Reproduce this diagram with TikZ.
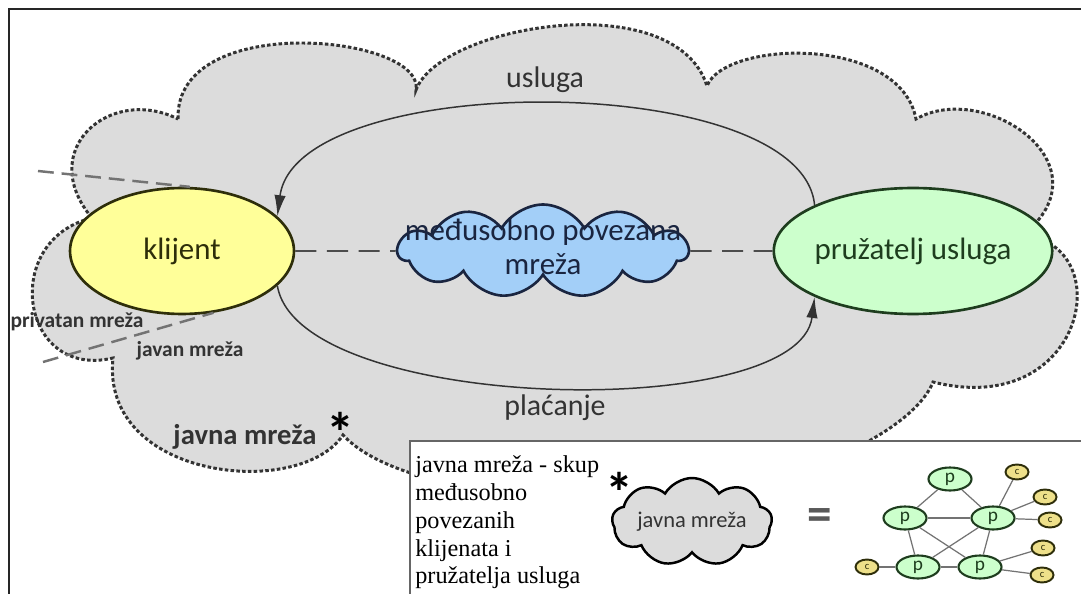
\documentclass[tikz,border=0pt]{standalone}
\usepackage{fontspec}
\setmainfont{Carlito}
\newfontfamily\opisfont{Liberation Serif}
\usetikzlibrary{shapes.geometric,shapes.symbols,arrows.meta}
\definecolor{cloudgray}{HTML}{DCDCDC}
\definecolor{klijentfill}{HTML}{FFFF99}
\definecolor{klijentline}{HTML}{2E2E0A}
\definecolor{provfill}{HTML}{CCFFCC}
\definecolor{provline}{HTML}{1E3D1E}
\definecolor{netfill}{HTML}{A3CFF8}
\definecolor{netline}{HTML}{1A2540}
\definecolor{cfill}{HTML}{EEE08A}
\definecolor{labeltext}{HTML}{333333}
\tikzset{>={Latex[length=12pt,width=6.5pt]}}
\tikzset{
  party/.style = {ellipse, draw, line width=1.5pt, inner sep=0pt,
    minimum height=2.52cm, font=\fontsize{17.6}{20}\selectfont},
  netcloud/.style = {cloud, cloud ignores aspect, draw, inner sep=0pt},
  flow/.style = {->, line width=0.85pt, draw=black!80},
  link/.style = {line width=0.7pt, dash pattern=on 12pt off 6pt},
  boundary/.style = {black!55, line width=1.4pt, dash pattern=on 9pt off 4.5pt},
  tag/.style = {text=labeltext, font=\fontsize{17}{20}\selectfont},
  star/.style = {font=\bfseries\fontsize{32}{32}\selectfont},
  pnode/.style = {ellipse, draw=provline, fill=provfill, line width=1.2pt,
    minimum width=0.86cm, minimum height=0.46cm, inner sep=0pt,
    text=provline, font=\fontsize{11}{11}\selectfont},
  cnode/.style = {ellipse, draw=klijentline, fill=cfill, line width=1.1pt,
    minimum width=0.46cm, minimum height=0.3cm, inner sep=0pt,
    text=klijentline, font=\fontsize{6}{6}\selectfont},
  netedge/.style = {draw=black!55, line width=0.7pt}
}

\begin{document}
\begin{tikzpicture}[x=0.02cm,y=-0.02cm]
  \useasboundingbox (0,0) rectangle (1081,594);
  \fill[white] (0,0) rectangle (1081,594);
  \draw[line width=1.2pt, black!85] (9,610) -- (9,9) -- (1100,9);

  \draw[fill=cloudgray, draw=black!80, line width=1.7pt, dash pattern=on 2pt off 1.3pt]
    (178,119) .. controls (175,10) and (425,35) .. (416,90)
    .. controls (440,25) and (675,-15) .. (707,86)
    .. controls (725,40) and (900,35) .. (916,119)
    .. controls (985,80) and (1110,165) .. (1023,235)
    .. controls (1120,245) and (1085,420) .. (933,382)
    .. controls (910,440) and (760,500) .. (640,500)
    .. controls (480,500) and (380,475) .. (343,435)
    .. controls (300,500) and (100,480) .. (113,358)
    .. controls (20,380) and (0,240) .. (92,218)
    .. controls (35,150) and (110,85) .. cycle;

  \node[party, fill=klijentfill, draw=klijentline, text=klijentline,
    minimum width=4.48cm] (klijent) at (182,251) {klijent};
  \node[party, fill=provfill, draw=provline, text=provline,
    minimum width=4.4cm] (pruzatelj) at (913,251) {pružatelj usluga};
  \node[netcloud, fill=netfill, draw=netline, line width=1.5pt, cloud puffs=11,
    cloud puff arc=120, minimum width=5.8cm, minimum height=1.86cm] (mreza) at (543,251) {};
  \node[align=center, text=netline, font=\fontsize{17.6}{19}\selectfont] (mrezatekst)
    at (543,247) {međusobno povezana\\mreža};

  \coordinate (privA) at (38,171);
  \coordinate (privB) at (43,362);
  \draw[boundary] (privA) -- (klijent.83);
  \draw[boundary] (privB) -- (klijent.-63);

  \draw[flow] (pruzatelj.155) .. controls +(-13,-136) and +(19,-147) .. (klijent.20);
  \draw[flow] (klijent.-20) .. controls +(21,127) and +(-16,127) .. (pruzatelj.205);
  \draw[link] (klijent) -- (mreza);
  \draw[link] (mreza) -- (pruzatelj);

  \node[tag] (usluga) at (545,80) {usluga};
  \node[tag] (placanje) at (555,408) {plaćanje};
  \node[text=labeltext, font=\bfseries\fontsize{16.3}{18}\selectfont] (javna) at (245,437) {javna mreža};
  \node[star] (zvjezdicaA) at (340,432) {*};
  \node[text=labeltext, font=\bfseries\fontsize{12.2}{14}\selectfont] (privatan) at (77,322) {privatan mreža};
  \node[text=labeltext, font=\bfseries\fontsize{12.2}{14}\selectfont] (javan) at (190,351) {javan mreža};

  \draw[fill=white, draw=black!60, line width=0.8pt] (410,441) rectangle (1100,620);
  \node[anchor=north west, align=left, inner sep=0pt,
    font=\opisfont\fontsize{13.8}{15.9}\selectfont] (opis) at (415,455)
    {javna mreža - skup\\međusobno\\povezanih\\klijenata i\\pružatelja usluga};
  \node[star] (zvjezdicaB) at (619,492) {*};
  \node[netcloud, fill=cloudgray, draw=black, line width=1.4pt, cloud puffs=9,
    cloud puff arc=120, minimum width=3.2cm, minimum height=1.76cm] (javnaoblak) at (692,522) {};
  \node[text=labeltext, font=\fontsize{12.8}{14}\selectfont] (javnatekst) at (javnaoblak) {javna mreža};
  \node[text=black!65, font=\bfseries\fontsize{28}{28}\selectfont] (jednako) at (820,520) {=};

  \node[pnode] (ptop) at (950,479) {p};
  \node[pnode] (pml) at (905,518) {p};
  \node[pnode] (pmr) at (993,518) {p};
  \node[pnode] (pbl) at (918,567) {p};
  \node[pnode] (pbr) at (980,567) {p};
  \node[cnode] (ca) at (1017,472) {c};
  \node[cnode] (cb) at (1045,497) {c};
  \node[cnode] (cc) at (1050,520) {c};
  \node[cnode] (cd) at (1043,548) {c};
  \node[cnode] (ce) at (1042,575) {c};
  \node[cnode] (cf) at (867,567) {c};
  \foreach \a/\b in {ptop/pml,ptop/pmr,pml/pmr,pml/pbl,pml/pbr,pmr/pbl,pmr/pbr,pbl/pbr,
    pmr/ca,pmr/cb,pmr/cc,pbr/cd,pbr/ce,pbl/cf}
    \draw[netedge] (\a) -- (\b);
\end{tikzpicture}
\end{document}
